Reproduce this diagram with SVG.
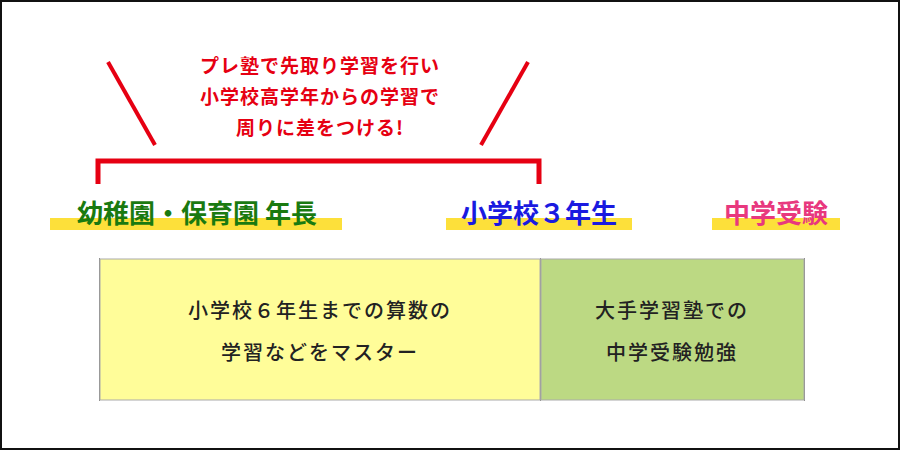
<svg xmlns="http://www.w3.org/2000/svg" width="900" height="450" viewBox="0 0 900 450">
<style>
text{font-family:"Noto Sans CJK JP","Noto Sans",sans-serif;font-weight:bold;text-anchor:middle}
.red{fill:#e60012;font-size:19px;letter-spacing:1px}
.lbl{font-size:26px}
.box{fill:#222;font-size:20px;letter-spacing:2px;font-weight:500}
.hl{fill:#fde03a}
.vline{stroke:#888;stroke-width:1}
</style>
<rect x="1" y="1" width="898" height="448" fill="#fff" stroke="#111" stroke-width="2"/>
<g id="callout">
<line x1="108" y1="62" x2="155" y2="145" stroke="#e60012" stroke-width="4"/>
<line x1="528" y1="62" x2="481" y2="145" stroke="#e60012" stroke-width="4"/>
<text class="red" x="320" y="73">プレ塾で先取り学習を行い</text>
<text class="red" x="320" y="104">小学校高学年からの学習で</text>
<text class="red" x="320" y="135">周りに差をつける!</text>
<path d="M98 184V161H539V184" fill="none" stroke="#e60012" stroke-width="5"/>
</g>
<g id="label-kinder">
<rect class="hl" x="50" y="218" width="292" height="12"/>
<text class="lbl" x="197" y="223" fill="#1a7a10">幼稚園・保育園 年長</text>
</g>
<g id="label-grade3">
<rect class="hl" x="446" y="218" width="186" height="12"/>
<text class="lbl" x="539" y="223" fill="#1a1ae0">小学校３年生</text>
</g>
<g id="label-exam">
<rect class="hl" x="712" y="218" width="128" height="12"/>
<text class="lbl" x="776" y="223" fill="#e8387e">中学受験</text>
</g>
<g id="connectors">
<line class="vline" x1="99.5" y1="258" x2="99.5" y2="401"/>
<line class="vline" x1="540.5" y1="258" x2="540.5" y2="401"/>
<line class="vline" x1="804.5" y1="258" x2="804.5" y2="401"/>
</g>
<g id="box-elementary">
<rect x="100" y="259" width="440" height="141" fill="#fffd99" stroke="#aaa" stroke-width="1"/>
<text class="box" x="320" y="318">小学校６年生までの算数の</text>
<text class="box" x="320" y="360">学習などをマスター</text>
</g>
<g id="box-exam">
<rect x="541" y="259" width="263" height="141" fill="#bcd983" stroke="#aaa" stroke-width="1"/>
<text class="box" x="672" y="318">大手学習塾での</text>
<text class="box" x="672" y="360">中学受験勉強</text>
</g>
</svg>
